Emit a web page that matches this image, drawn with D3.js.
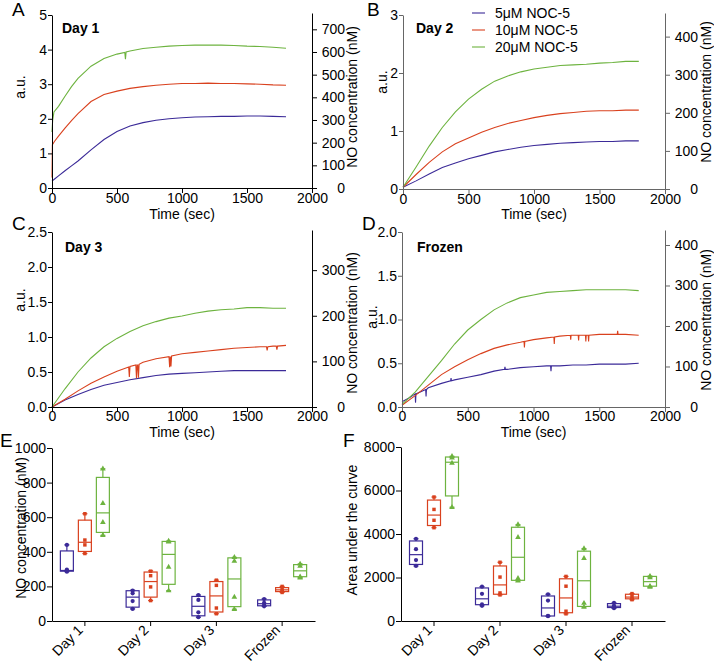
<!DOCTYPE html>
<html lang="en">
<head>
<meta charset="UTF-8">
<title>NOC-5 NO release</title>
<style>
  body { margin: 0; background: #fff; }
  svg { display: block; }
</style>
<script src="https://d3js.org/d3.v7.min.js"></script>
</head>
<body>
<svg width="714" height="665"></svg>
<script>
const FONT = "'Liberation Sans', Arial, Helvetica, sans-serif";
const colors = ["#3b2a98", "#d9411e", "#6db33f"];
const seriesNames = ["5μM NOC-5", "10μM NOC-5", "20μM NOC-5"];
const timeTicks = [0, 500, 1000, 1500, 2000];

// time courses: [time (sec), a.u.]
const day1Blue = [[0,0.2],[20,0.26],[50,0.35],[100,0.5],[150,0.64],[200,0.78],[300,1.1],[400,1.4],[500,1.63],[600,1.79],[700,1.89],[800,1.96],[900,2.0],[1000,2.03],[1100,2.05],[1200,2.06],[1300,2.07],[1400,2.07],[1500,2.08],[1600,2.08],[1700,2.07],[1800,2.06]];
const day1Red = [[0,0.3],[3,1.25],[20,1.35],[50,1.5],[100,1.73],[150,1.95],[200,2.15],[300,2.5],[400,2.7],[500,2.8],[600,2.88],[700,2.93],[800,2.97],[900,3.0],[1000,3.02],[1100,3.02],[1200,3.03],[1300,3.02],[1400,3.02],[1500,3.01],[1600,3.0],[1700,2.98],[1800,2.97]];
const day1Green = [[0,1.62],[5,1.95],[15,2.2],[50,2.36],[100,2.65],[150,2.93],[200,3.17],[300,3.52],[400,3.74],[500,3.87],[560,3.92],[565,3.72],[570,3.93],[600,3.96],[700,4.03],[800,4.07],[900,4.1],[1000,4.12],[1100,4.13],[1200,4.13],[1300,4.13],[1400,4.12],[1500,4.1],[1600,4.09],[1700,4.07],[1800,4.04]];

const day2Blue = [[0,0.03],[100,0.14],[200,0.26],[300,0.37],[400,0.45],[500,0.52],[600,0.58],[700,0.64],[800,0.68],[900,0.72],[1000,0.75],[1100,0.77],[1200,0.79],[1300,0.8],[1400,0.81],[1500,0.82],[1600,0.82],[1700,0.83],[1800,0.83]];
const day2Red = [[0,0.03],[100,0.25],[200,0.46],[300,0.64],[400,0.78],[500,0.88],[600,0.98],[700,1.06],[800,1.13],[900,1.18],[1000,1.23],[1100,1.27],[1200,1.3],[1300,1.32],[1400,1.34],[1500,1.35],[1600,1.35],[1700,1.36],[1800,1.36]];
const day2Green = [[0,0.03],[100,0.38],[200,0.74],[300,1.06],[400,1.33],[500,1.55],[600,1.72],[700,1.86],[800,1.95],[900,2.02],[1000,2.07],[1100,2.1],[1200,2.13],[1300,2.14],[1400,2.15],[1500,2.17],[1600,2.18],[1700,2.2],[1800,2.2]];

const day3Blue = [[0,0],[100,0.1],[200,0.18],[300,0.25],[400,0.31],[500,0.35],[600,0.39],[700,0.42],[800,0.45],[900,0.47],[1000,0.48],[1100,0.49],[1200,0.5],[1300,0.51],[1400,0.52],[1500,0.52],[1600,0.52],[1700,0.52],[1800,0.52]];
const day3Red = [[0,0],[100,0.11],[200,0.23],[300,0.34],[400,0.43],[500,0.51],[590,0.57],[595,0.43],[600,0.58],[645,0.6],[650,0.41],[655,0.6],[660,0.6],[665,0.42],[670,0.61],[700,0.64],[800,0.69],[900,0.72],[905,0.57],[910,0.72],[915,0.58],[920,0.73],[1000,0.76],[1100,0.78],[1200,0.8],[1300,0.82],[1400,0.84],[1500,0.85],[1600,0.86],[1650,0.86],[1655,0.81],[1660,0.86],[1700,0.87],[1725,0.87],[1730,0.82],[1735,0.87],[1800,0.88]];
const day3Green = [[0,0],[100,0.26],[200,0.5],[300,0.7],[400,0.86],[500,0.98],[600,1.08],[700,1.16],[800,1.22],[900,1.27],[1000,1.3],[1100,1.34],[1200,1.37],[1300,1.39],[1400,1.4],[1500,1.42],[1600,1.42],[1700,1.41],[1800,1.41]];

const frozenBlue = [[0,0.06],[50,0.1],[100,0.15],[103,0.05],[106,0.15],[180,0.2],[183,0.12],[186,0.2],[200,0.22],[300,0.27],[370,0.3],[373,0.33],[376,0.3],[400,0.31],[500,0.34],[600,0.37],[700,0.41],[780,0.43],[783,0.46],[786,0.43],[800,0.43],[900,0.45],[1000,0.46],[1100,0.47],[1130,0.47],[1133,0.41],[1136,0.47],[1200,0.47],[1300,0.48],[1400,0.48],[1500,0.49],[1600,0.49],[1700,0.49],[1800,0.5]];
const frozenRed = [[0,0.02],[100,0.13],[200,0.25],[300,0.37],[400,0.46],[500,0.54],[600,0.61],[700,0.67],[800,0.71],[900,0.74],[928,0.75],[931,0.68],[934,0.75],[1000,0.77],[1100,0.79],[1155,0.8],[1158,0.72],[1161,0.8],[1200,0.81],[1280,0.82],[1283,0.77],[1286,0.82],[1340,0.82],[1343,0.76],[1346,0.82],[1395,0.82],[1398,0.75],[1401,0.82],[1416,0.82],[1419,0.75],[1422,0.82],[1500,0.83],[1600,0.83],[1637,0.83],[1640,0.87],[1643,0.83],[1700,0.83],[1800,0.82]];
const frozenGreen = [[0,0.03],[100,0.17],[200,0.35],[300,0.53],[400,0.72],[500,0.88],[600,1.0],[700,1.11],[800,1.19],[900,1.25],[1000,1.28],[1100,1.31],[1200,1.32],[1300,1.33],[1400,1.34],[1500,1.34],[1600,1.34],[1700,1.34],[1800,1.33]];

// box plots: [min, q1, median, q3, max] per group
const groups = ["Day 1", "Day 2", "Day 3", "Frozen"];
const noBlue = [[285,288,292,405,440],[70,80,138,175,178],[22,30,85,142,150],[85,88,100,122,128]];
const noRed = [[390,402,455,583,620],[118,138,228,283,290],[42,52,145,228,236],[165,170,180,193,200]];
const noGreen = [[495,512,625,830,880],[175,212,385,460,462],[68,83,243,365,368],[250,256,290,326,330]];
const noBluePts = [[440,297,290,285],[175,160,115,70],[150,122,50,22],[127,105,92,85]];
const noRedPts = [[620,468,440,390],[288,262,197,118],[236,206,75,42],[200,182,172,165]];
const noGreenPts = [[880,680,570,495],[462,458,312,175],[368,346,138,68],[330,318,255,250]];

const aucBlue = [[2530,2600,3050,3680,3780],[700,750,1020,1520,1580],[220,230,600,1150,1230],[590,620,680,800,830]];
const aucRed = [[4290,4390,4870,5560,5700],[1200,1230,1660,2530,2700],[330,380,1060,1940,2050],[980,1020,1100,1230,1260]];
const aucGreen = [[5230,5750,7300,7540,7570],[1840,1870,2930,4310,4430],[640,670,1850,3210,3330],[1560,1600,1810,2050,2060]];
const aucBluePts = [[3780,3300,2800,2530],[1580,1250,760,700],[1230,940,240,220],[830,700,650,590]];
const aucRedPts = [[5700,5130,4630,4290],[2700,2020,1290,1200],[2050,1600,450,330],[1260,1120,1010,980]];
const aucGreenPts = [[7570,7500,7260,5230],[4430,3850,1960,1840],[3330,2880,820,640],[2060,2000,1600,1560]];

const svg = d3.select("svg").attr("font-family", FONT);

function styleAxis(g, color) {
  g.attr("font-family", FONT).attr("font-size", 14).attr("color", color);
  g.selectAll(".tick text").attr("fill", "#000");
}

function text(x, y, str, opts = {}) {
  const t = svg.append("text")
    .attr("x", x).attr("y", y)
    .attr("font-size", opts.size || 14)
    .attr("font-weight", opts.weight || null)
    .attr("text-anchor", opts.anchor || "start")
    .text(str);
  if (opts.rotate) {
    t.attr("x", null).attr("y", null)
      .attr("transform", `translate(${x},${y}) rotate(${opts.rotate})`);
  }
  return t;
}

function linePanel(o) {
  const x = d3.scaleLinear().domain([0, 2000]).range([o.left, o.right]);
  const y = d3.scaleLinear().domain([0, o.yMax]).range([o.bottom, o.top]);
  const yR = d3.scaleLinear().domain([0, o.rMax]).range([o.bottom, o.top - 2]);

  const line = d3.line().x(d => x(d[0])).y(d => y(d[1]));
  o.series.forEach((s, i) => {
    svg.append("path").datum(s)
      .attr("fill", "none")
      .attr("stroke", colors[i])
      .attr("stroke-width", 1.1)
      .attr("d", line);
  });

  const gx = svg.append("g").attr("transform", `translate(0,${o.bottom})`)
    .call(d3.axisBottom(x).tickValues(timeTicks).tickFormat(d3.format("d"))
      .tickSize(5).tickSizeOuter(0).tickPadding(o.xPad));
  styleAxis(gx, o.axisColor);

  const gy = svg.append("g").attr("transform", `translate(${o.left},0)`)
    .call(d3.axisLeft(y).tickValues(o.yTicks).tickFormat(o.yFmt)
      .tickSize(4).tickSizeOuter(0).tickPadding(1));
  styleAxis(gy, o.axisColor);

  const gr = svg.append("g").attr("transform", `translate(${o.right},0)`)
    .call(d3.axisRight(yR).tickValues(o.rTicks).tickFormat(d3.format("d"))
      .tickSize(5).tickSizeOuter(0));
  styleAxis(gr, o.axisColor);
  gr.selectAll(".tick text").attr("x", 33).attr("text-anchor", "end");

  text((o.left + o.right) / 2, o.timeY, "Time (sec)", {anchor: "middle"});
  text(o.auX, o.auY, "a.u.", {anchor: "middle", rotate: -90});
  text(o.rLabX, o.rLabY, "NO concentration (nM)", {anchor: "middle", rotate: -90});
  text(o.titleX, o.titleY, o.title, {weight: "bold"});
  text(o.letterX, o.letterY, o.letter, {size: 19});
}

function boxPanel(o) {
  const x = d3.scaleBand().domain(groups).range([o.left, o.right]);
  const y = d3.scaleLinear().domain([0, o.yMax]).range([o.bottom, o.top]);
  const offsets = [-18, 0, 18];
  const symbols = [d3.symbolCircle, d3.symbolSquare, d3.symbolTriangle];
  const symSize = [14, 12, 14];
  const bw = 13, cap = 5;

  o.stats.forEach((stats, s) => {
    stats.forEach((st, i) => {
      const cx = x(groups[i]) + x.bandwidth() / 2 + offsets[s];
      const g = svg.append("g").attr("stroke", colors[s]).attr("stroke-width", 1.2).attr("fill", "none");
      g.append("rect").attr("x", cx - bw / 2).attr("y", y(st[3]))
        .attr("width", bw).attr("height", y(st[1]) - y(st[3]));
      g.append("line").attr("x1", cx - bw / 2).attr("x2", cx + bw / 2)
        .attr("y1", y(st[2])).attr("y2", y(st[2]));
      g.append("line").attr("x1", cx).attr("x2", cx).attr("y1", y(st[4])).attr("y2", y(st[3]));
      g.append("line").attr("x1", cx).attr("x2", cx).attr("y1", y(st[1])).attr("y2", y(st[0]));
      g.append("line").attr("x1", cx - cap / 2).attr("x2", cx + cap / 2).attr("y1", y(st[4])).attr("y2", y(st[4]));
      g.append("line").attr("x1", cx - cap / 2).attr("x2", cx + cap / 2).attr("y1", y(st[0])).attr("y2", y(st[0]));
      svg.append("g").selectAll("path").data(o.points[s][i]).join("path")
        .attr("transform", d => `translate(${cx},${y(d)})`)
        .attr("d", d3.symbol(symbols[s], symSize[s]))
        .attr("fill", colors[s]);
    });
  });

  const gx = svg.append("g").attr("transform", `translate(0,${o.bottom})`)
    .call(d3.axisBottom(x).tickSize(5).tickSizeOuter(0));
  styleAxis(gx, "#000");
  gx.selectAll(".tick text")
    .attr("y", null).attr("dy", null)
    .attr("text-anchor", "end")
    .attr("transform", "translate(-1,10) rotate(-45)");

  const gy = svg.append("g").attr("transform", `translate(${o.left},0)`)
    .call(d3.axisLeft(y).tickValues(o.yTicks).tickFormat(d3.format("d"))
      .tickSize(5).tickSizeOuter(0).tickPadding(1));
  styleAxis(gy, "#000");

  text(o.labX, o.labY, o.label, {anchor: "middle", rotate: -90});
  text(o.letterX, o.letterY, o.letter, {size: 19});
}

linePanel({left: 52, right: 312, top: 15, bottom: 188, yMax: 5, yTicks: [0,1,2,3,4,5], yFmt: d3.format("d"),
  rMax: 772, rTicks: [0,100,200,300,400,500,600,700], series: [day1Blue, day1Red, day1Green],
  xPad: 0, timeY: 219, axisColor: "#000", auX: 25, auY: 87, rLabX: 357, rLabY: 97,
  title: "Day 1", titleX: 62, titleY: 33, letter: "A", letterX: 12, letterY: 16});

linePanel({left: 403, right: 665, top: 15, bottom: 189, yMax: 3, yTicks: [0,1,2,3], yFmt: d3.format("d"),
  rMax: 462, rTicks: [0,100,200,300,400], series: [day2Blue, day2Red, day2Green],
  xPad: 0, timeY: 219, axisColor: "#666", auX: 387, auY: 82, rLabX: 711, rLabY: 92,
  title: "Day 2", titleX: 416, titleY: 33, letter: "B", letterX: 367, letterY: 16});

linePanel({left: 52, right: 312, top: 232, bottom: 407, yMax: 2.5, yTicks: [0,0.5,1,1.5,2,2.5], yFmt: d3.format(".1f"),
  rMax: 388, rTicks: [0,100,200,300], series: [day3Blue, day3Red, day3Green],
  xPad: -1, timeY: 437, axisColor: "#000", auX: 25, auY: 300, rLabX: 357, rLabY: 323,
  title: "Day 3", titleX: 65, titleY: 252, letter: "C", letterX: 12, letterY: 230});

linePanel({left: 402, right: 665, top: 232, bottom: 407, yMax: 2, yTicks: [0,0.5,1,1.5,2], yFmt: d3.format(".1f"),
  rMax: 437, rTicks: [0,100,200,300,400], series: [frozenBlue, frozenRed, frozenGreen],
  xPad: -1, timeY: 437, axisColor: "#666", auX: 377, auY: 317, rLabX: 711, rLabY: 320,
  title: "Frozen", titleX: 417, titleY: 252, letter: "D", letterX: 362, letterY: 230});

// legend (panel B)
seriesNames.forEach((name, i) => {
  const ly = 13 + i * 17;
  svg.append("line").attr("x1", 472).attr("x2", 485).attr("y1", ly).attr("y2", ly)
    .attr("stroke", colors[i]).attr("stroke-width", 1.1);
  text(495, ly + 5, name);
});

boxPanel({left: 52, right: 315, top: 448, bottom: 621, yMax: 1000, yTicks: [0,200,400,600,800,1000],
  stats: [noBlue, noRed, noGreen], points: [noBluePts, noRedPts, noGreenPts],
  label: "NO concentration (nM)", labX: 26, labY: 528, letter: "E", letterX: 0, letterY: 447});

boxPanel({left: 401, right: 665, top: 447, bottom: 621, yMax: 8000, yTicks: [0,2000,4000,6000,8000],
  stats: [aucBlue, aucRed, aucGreen], points: [aucBluePts, aucRedPts, aucGreenPts],
  label: "Area under the curve", labX: 357, labY: 530, letter: "F", letterX: 343, letterY: 447});
</script>
</body>
</html>
